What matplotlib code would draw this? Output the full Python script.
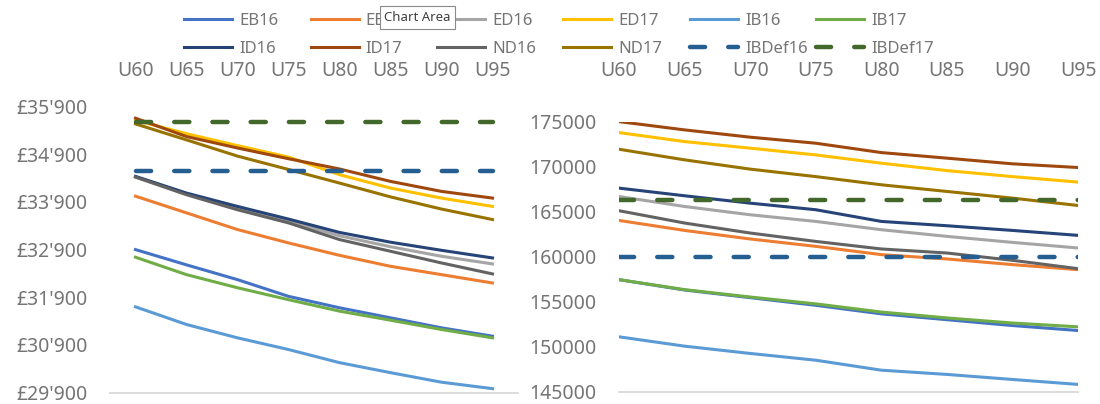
import matplotlib.pyplot as plt
import matplotlib.ticker as mticker

plt.rcParams['font.family'] = ['Noto Sans', 'DejaVu Sans']

cats = ['U60', 'U65', 'U70', 'U75', 'U80', 'U85', 'U90', 'U95']

# left panel (GBP)
eb16_l = [32900, 32580, 32270, 31920, 31680, 31470, 31260, 31085]
eb17_l = [34020, 33670, 33320, 33040, 32780, 32550, 32375, 32200]
ed16_l = [34420, 34070, 33770, 33500, 33190, 32960, 32760, 32600]
ed17_l = [35610, 35330, 35080, 34840, 34470, 34190, 33980, 33805]
ib16_l = [31700, 31330, 31050, 30805, 30530, 30320, 30120, 29985]
ib17_l = [32740, 32375, 32100, 31850, 31610, 31420, 31225, 31050]
id16_l = [34435, 34085, 33805, 33540, 33260, 33055, 32885, 32725]
id17_l = [35655, 35270, 35030, 34805, 34590, 34330, 34120, 33980]
nd16_l = [34420, 34050, 33735, 33460, 33110, 32865, 32620, 32390]
nd17_l = [35535, 35200, 34860, 34580, 34295, 34005, 33750, 33530]
ibdef16_l = [34555] * 8
ibdef17_l = [35575] * 8

# right panel
eb16_r = [157450, 156300, 155450, 154600, 153650, 153000, 152350, 151800]
eb17_r = [164030, 162920, 161970, 161150, 160230, 159750, 159120, 158560]
ed16_r = [166690, 165580, 164660, 163920, 163000, 162260, 161590, 160970]
ed17_r = [173790, 172790, 172060, 171310, 170390, 169570, 168900, 168290]
ib16_r = [151100, 150060, 149250, 148500, 147390, 146920, 146360, 145810]
ib17_r = [157450, 156340, 155520, 154760, 153850, 153200, 152630, 152210]
id16_r = [167620, 166770, 165950, 165220, 163920, 163440, 162920, 162370]
id17_r = [175010, 174090, 173280, 172610, 171570, 170950, 170320, 169910]
nd16_r = [165110, 163740, 162630, 161700, 160860, 160410, 159600, 158670]
nd17_r = [171940, 170760, 169730, 168900, 167990, 167250, 166510, 165690]
ibdef16_r = [160000] * 8
ibdef17_r = [166330] * 8

names = ['EB16', 'EB17', 'ED16', 'ED17', 'IB16', 'IB17',
         'ID16', 'ID17', 'ND16', 'ND17', 'IBDef16', 'IBDef17']
left_data = [eb16_l, eb17_l, ed16_l, ed17_l, ib16_l, ib17_l,
             id16_l, id17_l, nd16_l, nd17_l, ibdef16_l, ibdef17_l]
right_data = [eb16_r, eb17_r, ed16_r, ed17_r, ib16_r, ib17_r,
              id16_r, id17_r, nd16_r, nd17_r, ibdef16_r, ibdef17_r]
colors = ['#4472C4', '#ED7D31', '#A5A5A5', '#FFC000', '#5B9BD5', '#70AD47',
          '#264478', '#9E480E', '#636363', '#997300', '#255E91', '#43682B']

txt_col = '#757575'
x = list(range(len(cats)))

fig = plt.figure(figsize=(11, 4.04), dpi=100)
axL = fig.add_axes([110 / 1100, 11.3 / 404, 408 / 1100, 286.2 / 404])
axR = fig.add_axes([619 / 1100, 12.3 / 404, 459 / 1100, 270 / 404])


def draw(ax, data):
    hs = []
    for name, vals, c in zip(names, data, colors):
        if name.startswith('IBDef'):
            h, = ax.plot(x, vals, color=c, lw=3.2, dashes=(3.4, 5.2),
                         dash_capstyle='round', label=name)
        else:
            h, = ax.plot(x, vals, color=c, lw=2.2, label=name)
        hs.append(h)
    ax.xaxis.tick_top()
    ax.set_xticks(x)
    ax.set_xticklabels(cats)
    for s in ['top', 'left', 'right']:
        ax.spines[s].set_visible(False)
    ax.spines['bottom'].set_color('#D9D9D9')
    ax.spines['bottom'].set_linewidth(1.3)
    ax.tick_params(length=0, labelsize=14, labelcolor=txt_col)
    return hs


hs = draw(axL, left_data)
axL.set_xlim(-0.5, 7.5)
axL.set_ylim(29900, 35900)
axL.set_yticks(range(29900, 35901, 1000))
axL.yaxis.set_major_formatter(mticker.FuncFormatter(
    lambda v, p: "£{}'{:03d}".format(int(v) // 1000, int(v) % 1000)))
axL.tick_params(axis='x', pad=18)
axL.tick_params(axis='y', pad=16)

draw(axR, right_data)
axR.set_xlim(0, 7)
axR.set_ylim(145000, 175000)
axR.set_yticks(range(145000, 175001, 5000))
axR.tick_params(axis='x', pad=29)
axR.tick_params(axis='y', pad=16)

# legend: six columns, two rows
col_x = [184, 310.5, 437, 563, 690, 816]
for i, cx in enumerate(col_x):
    lg = fig.legend([hs[i], hs[i + 6]], [names[i], names[i + 6]],
                    loc='center left', bbox_to_anchor=(cx / 1100, 1 - 35 / 404),
                    frameon=False, fontsize=12, labelcolor=txt_col,
                    handlelength=2.9, handletextpad=0.4, labelspacing=0.7,
                    borderpad=0, borderaxespad=0)

fig.text(417.5 / 1100, 1 - 17.5 / 404, 'Chart Area', ha='center', va='center',
         fontsize=9.5, color='#404040', zorder=10,
         bbox=dict(boxstyle='square,pad=0.35', fc='white', ec='#8a8a8a', lw=0.8))

fig.savefig('out.png', dpi=100)
